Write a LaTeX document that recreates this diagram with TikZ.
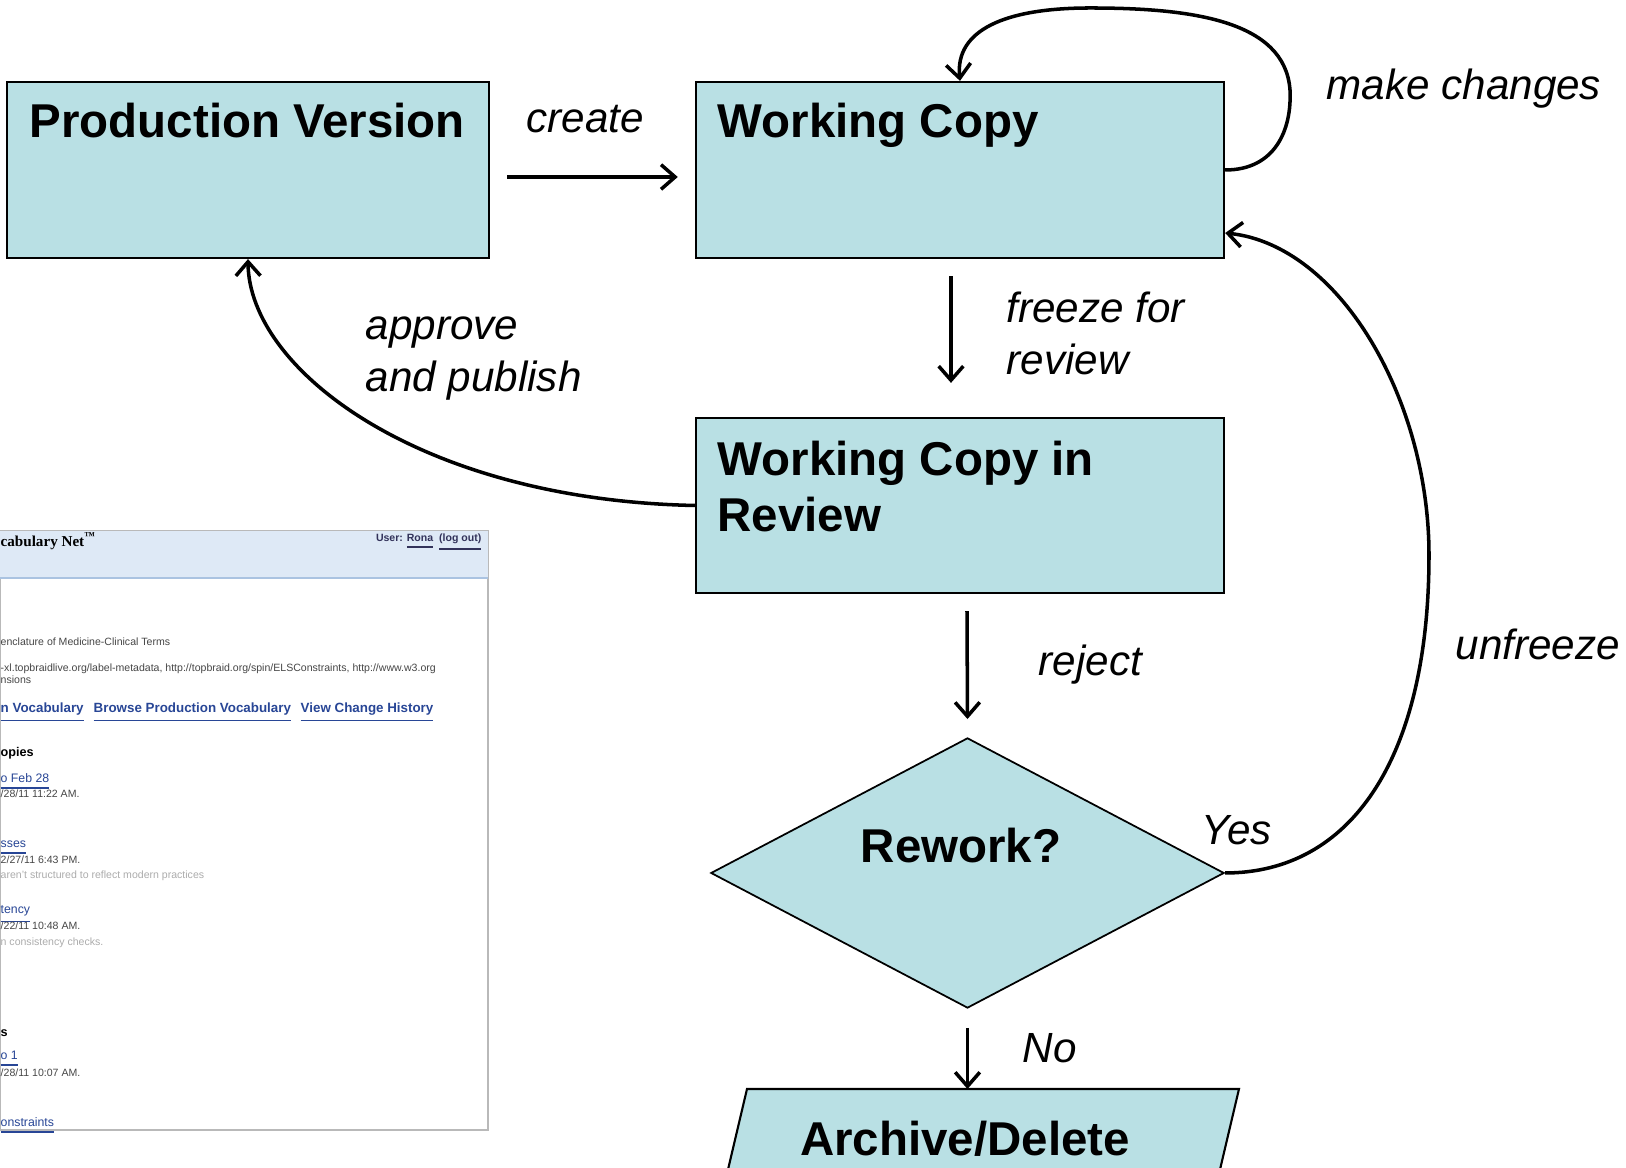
\documentclass[tikz,border=0pt]{standalone}
\usepackage{fontspec}
\setmainfont{Liberation Sans}
\newfontfamily\shotserif{Liberation Serif}
\usetikzlibrary{arrows.meta,shapes.geometric,scopes}
\definecolor{boxfill}{RGB}{185,224,228}
\definecolor{headfill}{RGB}{222,233,246}
\definecolor{headline}{RGB}{170,195,225}
\definecolor{linkblue}{RGB}{40,70,150}
\definecolor{shottext}{RGB}{70,70,70}
\begin{document}
\begin{tikzpicture}[
    x=0.01cm, y=-0.01cm,
    box/.style={rectangle,draw=black,fill=boxfill,line width=0.6pt,inner sep=0},
    dia/.style={diamond,draw=black,fill=boxfill,line width=0.5pt,inner sep=0},
    ttl/.style={font=\fontsize{13.5}{16.2}\selectfont\bfseries,align=left,inner sep=0,anchor=base west},
    lbl/.style={font=\fontsize{12}{14.8}\selectfont\itshape,align=left,inner sep=0,anchor=base west},
    conn/.style={-{Straight Barb[length=4pt,width=7pt]},line width=1pt},
    sm/.style={font=\fontsize{3}{3.6}\selectfont,text=shottext,inner sep=0,anchor=base west},
    lnk/.style={font=\fontsize{3.5}{4}\selectfont,text=linkblue,inner sep=0,anchor=base west},
    tab/.style={lnk,font=\fontsize{3.8}{4.4}\selectfont\bfseries},
]
    \useasboundingbox (0,0) rectangle (1626,1168);

    % screenshot
    \draw[gray!55,fill=white,line width=0.4pt] (0,531) rectangle (488,1130);
    \fill[headfill] (0,531) rectangle (487.5,578);
    \draw[headline,line width=0.4pt] (0,578) -- (487.5,578);
    \node[inner sep=0,anchor=base west,font=\shotserif\bfseries\fontsize{4.3}{5}\selectfont] (shottitle) at (0,547) {cabulary Net\textsuperscript{™}};
    \node[inner sep=0,anchor=base east,text={rgb,255:red,50;green,50;blue,90},font=\fontsize{3}{3.6}\selectfont\bfseries] (shotuser) at (482,542) {User: \underline{Rona}\ \ \underline{(log out)}};
    \node[sm] (shotname) at (0,646) {enclature of Medicine-Clinical Terms};
    \node[sm] (shotimp) at (0,672) {-xl.topbraidlive.org/label-metadata, http://topbraid.org/spin/ELSConstraints, http://www.w3.org};
    \node[sm] (shotext) at (0,684) {nsions};
    \node[tab] (tab1) at (0,713) {\underline{n Vocabulary}};
    \node[tab] (tab2) at (93,713) {\underline{Browse Production Vocabulary}};
    \node[tab] (tab3) at (300,713) {\underline{View Change History}};
    \node[sm,text=black,font=\fontsize{3.6}{4}\selectfont\bfseries] (shotcopies) at (0,757) {opies};
    \node[sm,text=black,font=\fontsize{3.6}{4}\selectfont\bfseries] (shotother) at (0,1037) {s};
    \foreach \y/\t/\n in {783/o Feb 28/a, 848/sses/b, 914/tency/c, 1060/o 1/d, 1127/onstraints/e}
        \node[lnk] (lnk\n) at (0,\y) {\underline{\t}};
    \node[sm] (date1) at (0,798) {/28/11 11:22 AM.};
    \node[sm] (date2) at (0,864) {2/27/11 6:43 PM.};
    \node[sm] (date3) at (0,930) {/22/11 10:48 AM.};
    \node[sm] (date4) at (0,1077) {/28/11 10:07 AM.};
    \node[sm,text=gray!65] (note1) at (0,879) {aren't structured to reflect modern practices};
    \node[sm,text=gray!65] (note2) at (0,946) {n consistency checks.};

    % flow
    \node[box,minimum width=4.82cm,minimum height=1.76cm] (prod) at (248,170) {};
    \node[box,minimum width=5.28cm,minimum height=1.76cm] (work) at (960,170) {};
    \node[box,minimum width=5.28cm,minimum height=1.75cm] (review) at (960,505.5) {};
    \node[dia,minimum width=5.13cm,minimum height=2.7cm] (rework) at (967.5,873) {};
    \draw[box] (747,1089) -- (1239,1089) -- (1214,1195) -- (722,1195) -- cycle;
    \coordinate (archtop) at (967.5,1089);

    \node[ttl] (prodtxt) at (29,138) {Production Version};
    \node[ttl] (worktxt) at (717,138) {Working Copy};
    \node[ttl] (reviewtxt) at (717,532) {Working Copy in\\Review};
    \node[ttl,anchor=base] (reworktxt) at (961,863) {Rework?};
    \node[ttl,anchor=base] (archivetxt) at (965,1156) {Archive/Delete};

    {[conn]
        \draw ([shift={(17,7)}]prod.east) -- ([shift={(-17,7)}]work.west);
        \draw (work.east) .. controls (1275,170) and (1292,130) .. (1290,90)
            .. controls (1285,20) and (1190,8) .. (1090,8)
            .. controls (1005,8) and (955,30) .. (work.north);
        \draw ([shift={(-9,17)}]work.south) -- ([shift={(-9,-34)}]review.north);
        \draw (review.west) .. controls (420,500) and (249,370) .. (prod.south);
        \draw ([shift={(7,17)}]review.south) -- ([shift={(0,-18)}]rework.north);
        \draw (rework.east) .. controls (1350,873) and (1429,760) .. (1429,555)
            .. controls (1429,400) and (1340,245) .. ([shift={(0,63)}]work.east);
        \draw ([shift={(0,19)}]rework.south) -- (archtop);
    }

    \node[lbl] (create) at (526,133) {create};
    \node[lbl] (changes) at (1326,100) {make changes};
    \node[lbl] (freeze) at (1006,375) {freeze for\\review};
    \node[lbl] (approve) at (365,392) {approve\\and publish};
    \node[lbl] (reject) at (1038,676) {reject};
    \node[lbl] (yes) at (1201,845) {Yes};
    \node[lbl] (unfreeze) at (1455,660) {unfreeze};
    \node[lbl] (no) at (1022,1063) {No};
\end{tikzpicture}
\end{document}
